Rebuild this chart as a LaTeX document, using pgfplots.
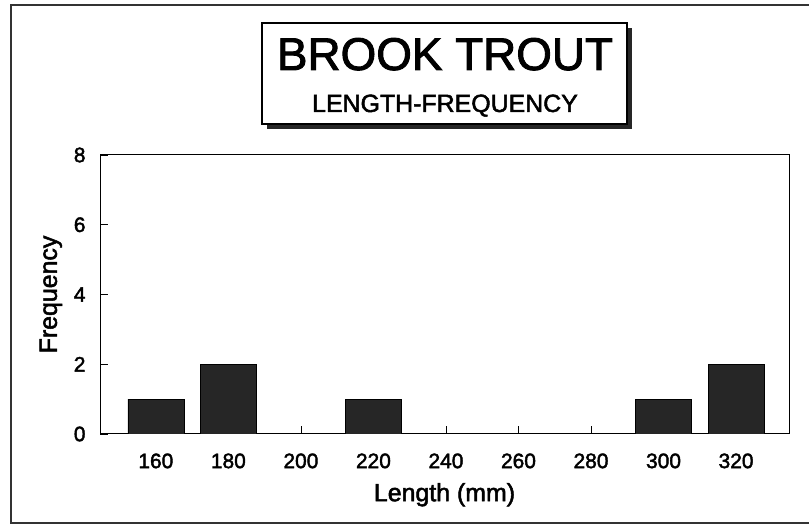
\documentclass[border=0pt]{standalone}
\usepackage{pgfplots}
\pgfplotsset{compat=1.18}
\usepackage{fontspec}
\setmainfont{Liberation Sans}[FakeBold=2]
\begin{document}
\begin{tikzpicture}[x=1bp,y=1bp]
\useasboundingbox (0,0) rectangle (809,525);
\draw[line width=1.5bp, black!80] (815,2) -- (11,2) -- (11,520) -- (815,520);
\fill[black!85] (267,396) rectangle (632,497);
\draw[fill=white, line width=1.2bp] (262,401) rectangle (627,502);
\node[anchor=base, inner sep=0pt, font=\fontsize{46}{50}\selectfont] at (445,455) {BROOK TROUT};
\node[anchor=base, inner sep=0pt, font=\fontsize{25}{28}\selectfont] at (445,413) {LENGTH-FREQUENCY};
\begin{axis}[
  at={(100bp,91bp)}, anchor=south west,
  scale only axis, width=689bp, height=279bp,
  xmin=-0.77, xmax=8.73, ymin=0, ymax=8,
  xtick={0,...,8},
  xticklabels={160,180,200,220,240,260,280,300,320},
  ytick={0,2,4,6,8},
  xtick pos=bottom, ytick pos=left,
  tick align=inside,
  major tick length=8bp,
  axis line style={line width=1bp},
  tick style={line width=0.8bp, black},
  /pgf/number format/assume math mode=true,
  tick label style={font=\fontsize{21}{24}\selectfont},
  yticklabel style={xshift=-11bp},
  xticklabel style={yshift=-16bp},
  label style={font=\fontsize{25}{28}\selectfont},
  xlabel={Length (mm)},
  xlabel style={yshift=-8bp},
  ylabel={Frequency},
  ylabel style={yshift=5bp},
]
\addplot[ybar, bar width=0.77, fill=black!85, draw=black] coordinates {(0,1) (1,2) (3,1) (7,1) (8,2)};
\end{axis}
\end{tikzpicture}
\end{document}
